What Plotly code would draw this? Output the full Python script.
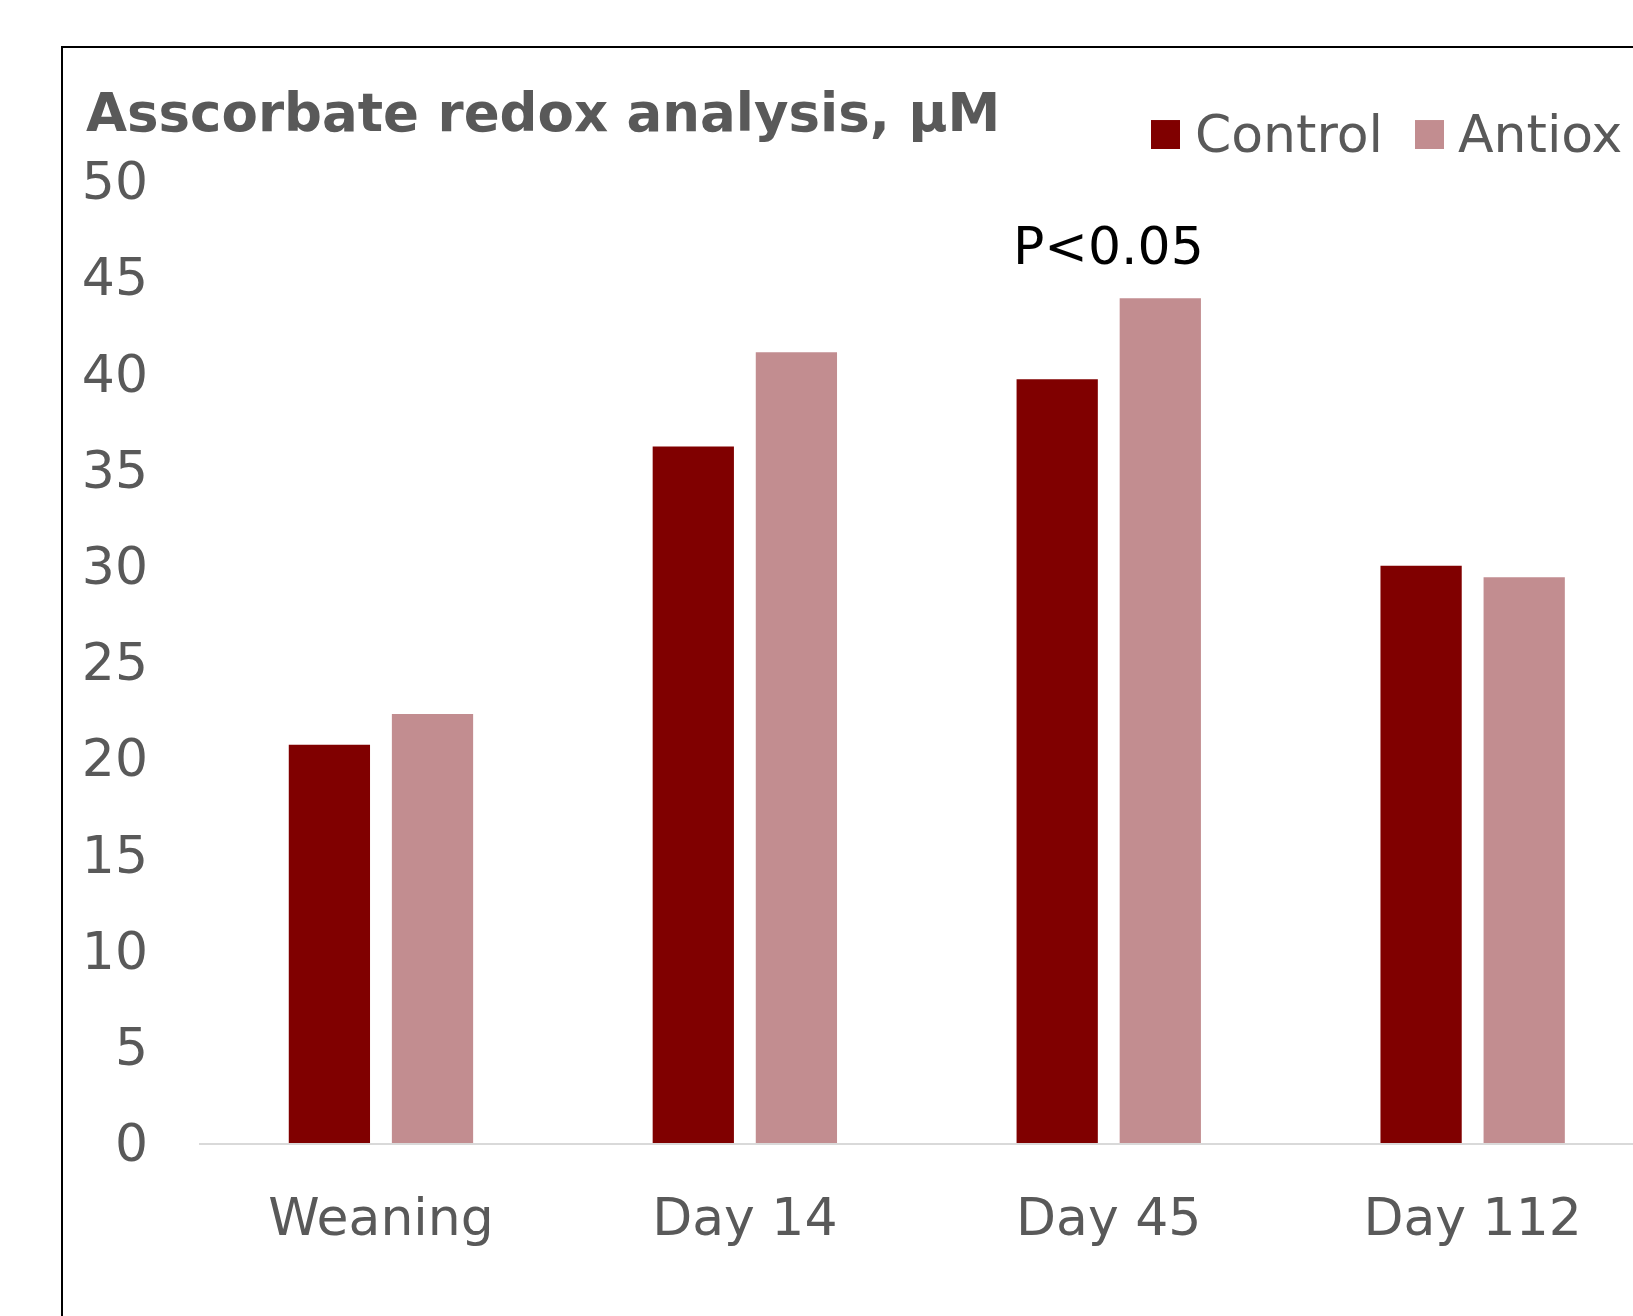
import plotly.graph_objects as go

categories = ["Weaning", "Day 14", "Day 45", "Day 112"]
control = [20.7, 36.2, 39.7, 30.0]
antiox = [22.3, 41.1, 43.9, 29.4]
y_ticks = [0, 5, 10, 15, 20, 25, 30, 35, 40, 45, 50]
title_text = "Asscorbate redox analysis, μM"
sig_label = "P<0.05"
sig_category = "Day 45"
sig_y = 46.6

C_CTRL = "#800000"
C_ANT = "#c28d90"
GREY = "#595959"
FONT = "DejaVu Sans"

W, H = 1633, 1316
L, R, T, B = 199, 0, 181, 172.5
pw = W - L - R
ph = H - T - B

def px(x):
    return (x - L) / pw

def py(y):
    return (H - B - y) / ph

fig = go.Figure()
fig.add_trace(go.Bar(x=categories, y=control, name="Control", marker=dict(color=C_CTRL, line=dict(width=0))))
fig.add_trace(go.Bar(x=categories, y=antiox, name="Antiox", marker=dict(color=C_ANT, line=dict(width=0))))

fig.update_layout(
    width=W, height=H,
    margin=dict(l=L, r=R, t=T, b=B, pad=0),
    paper_bgcolor="white", plot_bgcolor="white",
    barmode="group", bargap=0.4334, bargroupgap=0.2118,
    showlegend=False,
    font=dict(family=FONT, size=52, color=GREY),
)
fig.update_xaxes(
    range=[-0.5, -0.5 + pw / 363.9],
    showline=True, linecolor="#d9d9d9", linewidth=1.5,
    showgrid=False, ticks="", ticklabelstandoff=28,
    tickfont=dict(family=FONT, size=52, color=GREY),
)
fig.update_yaxes(
    range=[0, 50], tickvals=y_ticks, showgrid=False, zeroline=False,
    showline=False, ticks="", ticklabelstandoff=50,
    tickfont=dict(family=FONT, size=52, color=GREY),
)

# frame
fig.add_shape(type="rect", xref="paper", yref="paper",
              x0=px(62), x1=px(1700), y0=py(1400), y1=py(47),
              line=dict(color="black", width=2), fillcolor="rgba(0,0,0,0)")

# title
fig.add_annotation(text="<b>" + title_text + "</b>", xref="paper", yref="paper",
                   x=px(84), y=py(112), xanchor="left", yanchor="middle",
                   showarrow=False, font=dict(family=FONT, size=53, color=GREY))

# legend
for (x0, x1, tx, name, col) in [(1151, 1180, 1193, "Control", C_CTRL), (1415, 1444, 1456, "Antiox", C_ANT)]:
    fig.add_shape(type="rect", xref="paper", yref="paper",
                  x0=px(x0), x1=px(x1), y0=py(149), y1=py(120),
                  line=dict(width=0), fillcolor=col)
    fig.add_annotation(text=name, xref="paper", yref="paper",
                       x=px(tx), y=py(134), xanchor="left", yanchor="middle",
                       showarrow=False, font=dict(family=FONT, size=52, color=GREY))

# significance
fig.add_annotation(text=sig_label, x=sig_category, y=sig_y, xref="x", yref="y",
                   xanchor="center", yanchor="middle", showarrow=False,
                   font=dict(family=FONT, size=52, color="black"))

fig.write_html("out.html", config={"displayModeBar": False},
               post_script="document.body.style.margin='0';document.body.style.overflow='hidden';")
